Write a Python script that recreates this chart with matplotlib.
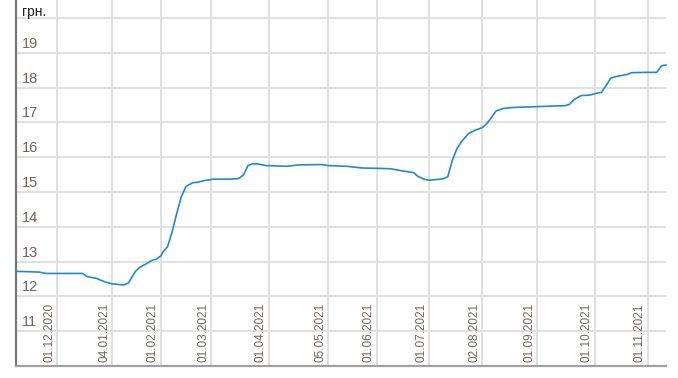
import matplotlib
matplotlib.use("Agg")
import matplotlib.pyplot as plt
from matplotlib import transforms

# observation index (trading-day order) and exchange rate, UAH
obs_index = [0, 10, 13, 29, 31, 35, 39, 42, 47, 49, 52, 54, 57, 59, 61, 63, 64, 66, 68,
             70, 72, 74, 77, 79, 82, 86, 93, 97, 99, 101, 103, 105, 109, 118, 123, 133,
             136, 144, 151, 158, 163, 168, 173, 175, 178, 180, 186, 188, 190, 192, 194,
             197, 200, 203, 205, 207, 209, 212, 216, 225, 237, 239, 241, 243, 246, 250,
             253, 255, 257, 259, 262, 266, 268, 274, 279, 280, 281, 283]
rate = [12.72, 12.70, 12.66, 12.66, 12.57, 12.52, 12.41, 12.36, 12.33, 12.39, 12.72, 12.84,
        12.95, 13.03, 13.07, 13.16, 13.28, 13.43, 13.86, 14.39, 14.87, 15.16, 15.27, 15.28,
        15.33, 15.37, 15.37, 15.39, 15.49, 15.76, 15.81, 15.81, 15.76, 15.74, 15.78, 15.79,
        15.76, 15.74, 15.69, 15.68, 15.67, 15.61, 15.56, 15.45, 15.36, 15.34, 15.38, 15.44,
        15.92, 16.25, 16.45, 16.68, 16.78, 16.85, 16.97, 17.14, 17.33, 17.40, 17.43, 17.45,
        17.48, 17.48, 17.52, 17.66, 17.77, 17.79, 17.84, 17.87, 18.07, 18.28, 18.33, 18.38,
        18.43, 18.44, 18.44, 18.53, 18.63, 18.65]

tick_index = [18, 42, 63, 85, 110, 136, 157, 180, 203, 227, 252, 275]
tick_labels = ["01.12.2020", "04.01.2021", "01.02.2021", "01.03.2021", "01.04.2021",
               "05.05.2021", "01.06.2021", "01.07.2021", "02.08.2021", "01.09.2021",
               "01.10.2021", "01.11.2021"]
y_grid = [11, 12, 13, 14, 15, 16, 17, 18, 19, 20]
y_labels = [11, 12, 13, 14, 15, 16, 17, 18, 19]
unit_label = "грн."

plt.rcParams['font.family'] = ['Liberation Sans', 'DejaVu Sans']

fig = plt.figure(figsize=(6.78, 3.78), dpi=100)
ax = fig.add_axes([16 / 678, 12 / 378, (666 - 16) / 678, 366 / 378])
ax.set_xlim(0, 283)
ax.set_ylim(10, 20.52)

grid_c = '#e0e0e0'
for yv in y_grid:
    ax.axhline(yv, color=grid_c, lw=1.4, zorder=1, xmax=0.998)
for xv in tick_index:
    ax.axvline(xv, color=grid_c, lw=1.4, zorder=1)

ax.plot(obs_index, rate, color='#1f8bc9', lw=1.2, zorder=3, clip_on=False)

lab_c = '#6e655e'
ylab_tr = transforms.offset_copy(ax.transData, fig=fig, x=6, y=2, units='dots')
for yv in y_labels:
    ax.text(0, yv, str(yv), transform=ylab_tr,
            ha='left', va='bottom', fontsize=10.5, color=lab_c, zorder=4)

xlab_tr = transforms.offset_copy(ax.transData, fig=fig, x=-2, y=4, units='dots')
for xv, lab in zip(tick_index, tick_labels):
    ax.text(xv, 10, lab, rotation=90, transform=xlab_tr,
            ha='right', va='bottom', fontsize=8.5, color=lab_c, zorder=4)

ax.annotate(unit_label, xy=(0, 1), xycoords='axes fraction', xytext=(6, -5),
            textcoords='offset pixels', ha='left', va='top', fontsize=10, color='#222222')

ax.set_xticks([])
ax.set_yticks([])
for s in ['top', 'right']:
    ax.spines[s].set_visible(False)
ax.spines['left'].set_color('#777777')
ax.spines['left'].set_linewidth(1.6)
ax.spines['bottom'].set_color('#a0a0a0')
ax.spines['bottom'].set_linewidth(1.6)

fig.savefig('out.png', dpi=100)
